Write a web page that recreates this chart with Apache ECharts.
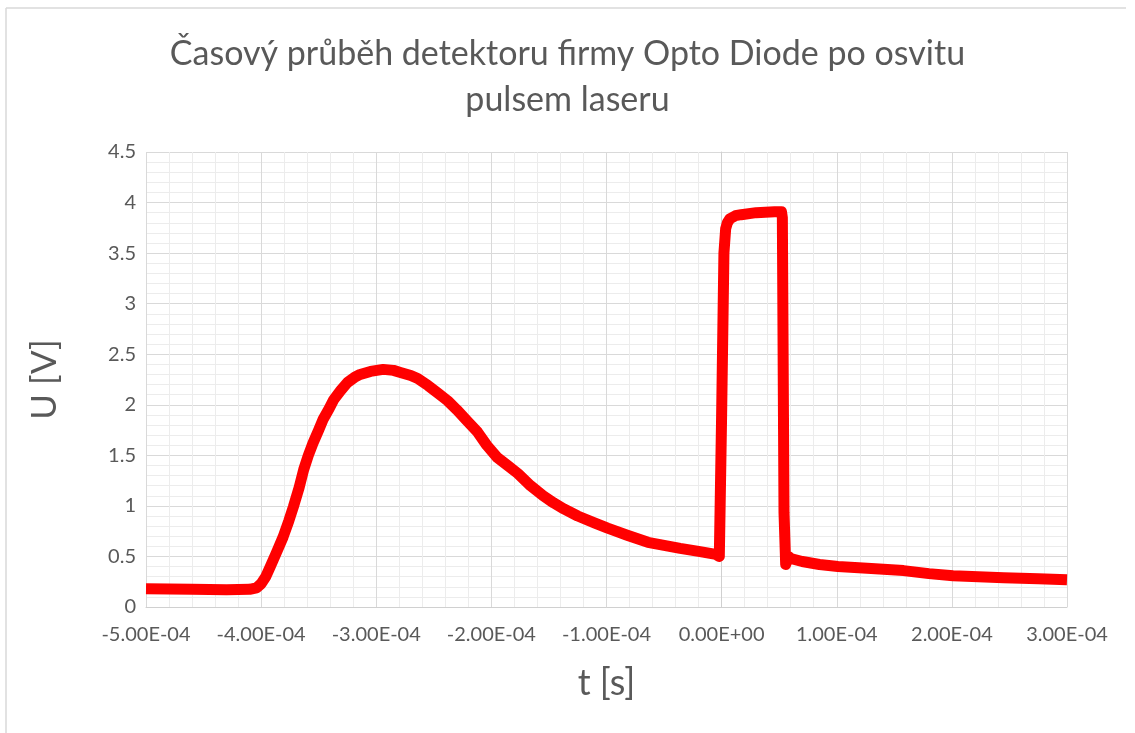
<!DOCTYPE html>
<html>
<head>
<meta charset="utf-8">
<script src="https://cdn.jsdelivr.net/npm/echarts@6/dist/echarts.min.js"></script>
<style>
html, body { margin: 0; padding: 0; background: #fff; }
#chart { width: 1135px; height: 733px; }
</style>
</head>
<body>
<div id="chart"></div>
<script>
// čas [s] a napětí [V]
var casy = [
  -5.00e-4, -4.60e-4, -4.30e-4, -4.10e-4, -4.04e-4, -4.00e-4, -3.96e-4, -3.92e-4,
  -3.87e-4, -3.81e-4, -3.76e-4, -3.72e-4, -3.67e-4, -3.63e-4, -3.59e-4, -3.55e-4,
  -3.50e-4, -3.46e-4, -3.41e-4, -3.37e-4, -3.31e-4, -3.25e-4, -3.19e-4, -3.14e-4,
  -3.05e-4, -2.94e-4, -2.85e-4, -2.79e-4, -2.70e-4, -2.64e-4, -2.55e-4, -2.47e-4,
  -2.38e-4, -2.30e-4, -2.21e-4, -2.12e-4, -2.04e-4, -1.95e-4, -1.86e-4, -1.77e-4,
  -1.66e-4, -1.55e-4, -1.46e-4, -1.37e-4, -1.25e-4, -1.10e-4, -0.99e-4, -0.82e-4,
  -0.64e-4, -0.50e-4, -0.36e-4, -0.20e-4, -0.05e-4, -0.02e-4, 0.00e-4, 0.02e-4,
  0.035e-4, 0.05e-4, 0.072e-4, 0.12e-4, 0.17e-4, 0.30e-4, 0.46e-4, 0.52e-4,
  0.5275e-4, 0.542e-4, 0.5565e-4, 0.58e-4, 0.60e-4, 0.70e-4, 0.85e-4, 1.01e-4,
  1.30e-4, 1.58e-4, 1.80e-4, 2.01e-4, 2.45e-4, 2.75e-4, 3.00e-4
];
var napeti = [
  0.18, 0.175, 0.17, 0.175, 0.19, 0.23, 0.30, 0.40,
  0.53, 0.69, 0.85, 0.99, 1.18, 1.36, 1.50, 1.62,
  1.75, 1.86, 1.96, 2.05, 2.14, 2.22, 2.27, 2.30,
  2.33, 2.35, 2.34, 2.32, 2.29, 2.26, 2.19, 2.12,
  2.04, 1.95, 1.84, 1.73, 1.60, 1.48, 1.40, 1.32,
  1.20, 1.10, 1.03, 0.97, 0.90, 0.83, 0.78, 0.71,
  0.64, 0.61, 0.58, 0.55, 0.52, 0.50, 1.90, 3.50,
  3.74, 3.80, 3.84, 3.87, 3.88, 3.90, 3.91, 3.91,
  3.85, 0.93, 0.42, 0.50, 0.48, 0.45, 0.42, 0.40,
  0.38, 0.36, 0.33, 0.31, 0.29, 0.28, 0.27
];

var titulek = 'Časový průběh detektoru firmy Opto Diode po osvitu\npulsem laseru';
var popisX = 't [s]';
var popisY = 'U [V]';

// formát jako v Excelu: -5.00E-04
function excelExp(v) {
  if (Math.abs(v) < 1e-12) v = 0;
  var s = Number(v).toExponential(2).toUpperCase().split('E');
  var e = parseInt(s[1], 10);
  return s[0] + 'E' + (e < 0 ? '-' : '+') + String(Math.abs(e)).padStart(2, '0');
}

var body = casy.map(function (t, i) { return [t, napeti[i]]; });

var myChart = echarts.init(document.getElementById('chart'));
myChart.setOption({
  backgroundColor: '#fff',
  animation: false,
  textStyle: { fontFamily: 'Lato' },
  graphic: [
    { type: 'line', shape: { x1: 6, y1: 8, x2: 1126, y2: 8 }, style: { stroke: '#d9d9d9', lineWidth: 1.5 } },
    { type: 'line', shape: { x1: 6, y1: 8, x2: 6, y2: 733 }, style: { stroke: '#d9d9d9', lineWidth: 1.5 } }
  ],
  title: {
    text: titulek,
    left: 'center',
    top: 26,
    textStyle: { fontFamily: 'Lato', fontSize: 34, fontWeight: 'normal', color: '#595959', lineHeight: 46 }
  },
  grid: { left: 146, right: 68, top: 152, bottom: 126 },
  xAxis: {
    type: 'value',
    min: -5e-4,
    max: 3e-4,
    interval: 1e-4,
    name: popisX,
    nameLocation: 'middle',
    nameGap: 58,
    nameTextStyle: { fontSize: 36, color: '#595959' },
    axisLine: { show: true, onZero: false, lineStyle: { color: '#d0d0d0' } },
    axisTick: { show: false },
    axisLabel: { formatter: excelExp, fontSize: 20, color: '#595959', margin: 18 },
    splitLine: { show: true, lineStyle: { color: '#d9d9d9' } },
    minorTick: { show: false, splitNumber: 5 },
    minorSplitLine: { show: true, lineStyle: { color: '#ececec' } }
  },
  yAxis: {
    type: 'value',
    min: 0,
    max: 4.5,
    interval: 0.5,
    name: popisY,
    nameLocation: 'middle',
    nameGap: 84,
    nameTextStyle: { fontSize: 35, color: '#595959' },
    axisLine: { show: true, lineStyle: { color: '#d0d0d0' } },
    axisTick: { show: false },
    axisLabel: { fontSize: 20, color: '#595959', margin: 10 },
    splitLine: { show: true, lineStyle: { color: '#d9d9d9' } },
    minorTick: { show: false, splitNumber: 5 },
    minorSplitLine: { show: true, lineStyle: { color: '#ececec' } }
  },
  series: [
    {
      type: 'line',
      data: body,
      showSymbol: false,
      smooth: false,
      lineStyle: { color: '#ff0000', width: 11, join: 'round', cap: 'butt' }
    }
  ]
});
</script>
</body>
</html>
